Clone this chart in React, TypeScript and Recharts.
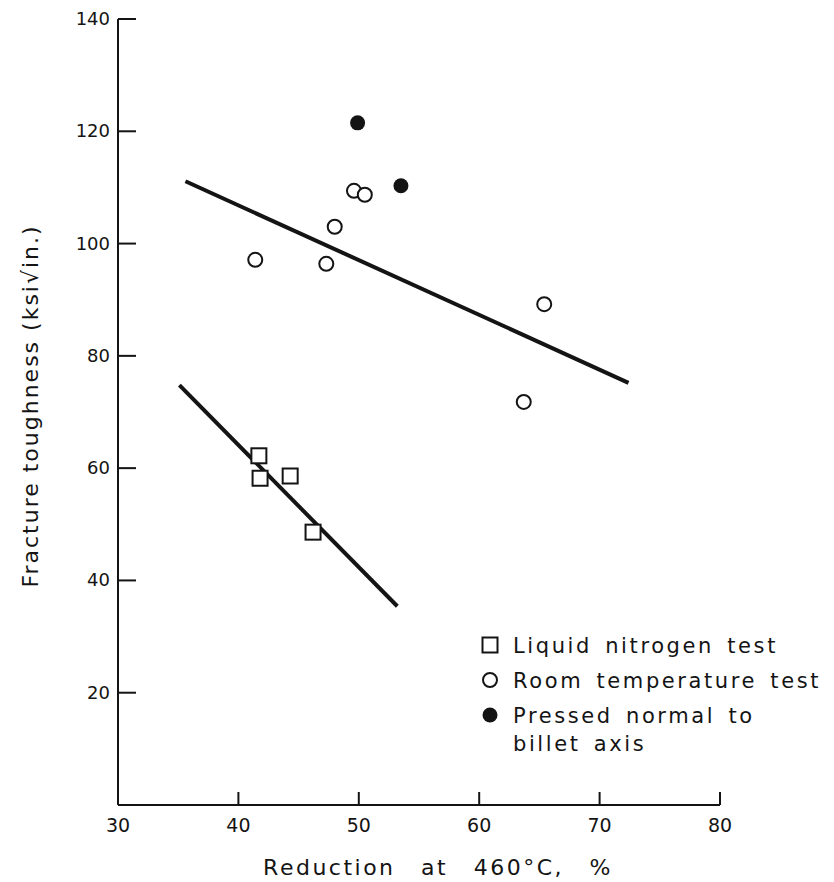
import { Label, Legend, ReferenceLine, Scatter, ScatterChart, XAxis, YAxis } from "recharts";

const FONT = '"DejaVu Sans", sans-serif';
const INK = "#141414";

const xTicks = [30, 40, 50, 60, 70, 80];
const yTicks = [20, 40, 60, 80, 100, 120, 140];

const liquidNitrogen = [
  { reduction: 41.7, toughness: 62.2 },
  { reduction: 41.8, toughness: 58.2 },
  { reduction: 44.3, toughness: 58.6 },
  { reduction: 46.2, toughness: 48.6 },
];

const roomTemperature = [
  { reduction: 41.4, toughness: 97.1 },
  { reduction: 47.3, toughness: 96.4 },
  { reduction: 48.0, toughness: 103.0 },
  { reduction: 49.6, toughness: 109.4 },
  { reduction: 50.5, toughness: 108.7 },
  { reduction: 65.4, toughness: 89.2 },
  { reduction: 63.7, toughness: 71.8 },
];

const pressedNormal = [
  { reduction: 49.9, toughness: 121.5 },
  { reduction: 53.5, toughness: 110.3 },
];

const roomTempFit = [
  { x: 35.6, y: 111.1 },
  { x: 72.4, y: 75.2 },
];

const liquidNitrogenFit = [
  { x: 35.1, y: 74.8 },
  { x: 53.2, y: 35.4 },
];

const legendItems = [
  { kind: "square", text: ["Liquid nitrogen test"] },
  { kind: "circle", text: ["Room temperature test"] },
  { kind: "dot", text: ["Pressed normal to", "billet axis"] },
];

const TICK_MARGIN = 8;

const SquareMark = ({ cx, cy }: any) => (
  <rect x={cx - 7.5} y={cy - 7.5} width={15} height={15} fill="#fff" stroke={INK} strokeWidth={2} />
);
const CircleMark = ({ cx, cy }: any) => (
  <circle cx={cx} cy={cy} r={7} fill="#fff" stroke={INK} strokeWidth={2} />
);
const DotMark = ({ cx, cy }: any) => <circle cx={cx} cy={cy} r={7.5} fill={INK} />;

const YTick = ({ x, y, payload }: any) => (
  <g>
    <line x1={x + TICK_MARGIN} x2={x + TICK_MARGIN + 18} y1={y} y2={y} stroke={INK} strokeWidth={2} />
    <text x={x} y={y} dy={6} textAnchor="end" fontFamily={FONT} fontSize={18} fill={INK}>
      {payload.value}
    </text>
  </g>
);

const XTick = ({ x, y, payload }: any) => (
  <g>
    {payload.value !== 30 && (
      <line x1={x} x2={x} y1={y - TICK_MARGIN} y2={y - TICK_MARGIN - 13} stroke={INK} strokeWidth={2} />
    )}
    <text x={x} y={y} dy={19} textAnchor="middle" fontFamily={FONT} fontSize={19} fill={INK}>
      {payload.value}
    </text>
  </g>
);

const LegendBox = () => (
  <div
    style={{ fontFamily: FONT, fontSize: 21, letterSpacing: 2.6, wordSpacing: 4, color: INK, lineHeight: "28px" }}
  >
    {legendItems.map((item) => (
      <div key={item.kind} style={{ display: "flex", alignItems: "flex-start", marginBottom: 7 }}>
        <svg width={38} height={28} style={{ flexShrink: 0 }}>
          {item.kind === "square" && <SquareMark cx={15} cy={13} />}
          {item.kind === "circle" && <CircleMark cx={15} cy={13} />}
          {item.kind === "dot" && <DotMark cx={15} cy={13} />}
        </svg>
        <div>
          {item.text.map((t) => (
            <div key={t}>{t}</div>
          ))}
        </div>
      </div>
    ))}
  </div>
);

export default function App() {
  return (
    <div style={{ position: "absolute", left: 0, top: 0, width: 834, height: 882, background: "#fff" }}>
      <ScatterChart width={834} height={882} margin={{ top: 19, right: 114, bottom: 0, left: 0 }}>
        <XAxis
          type="number"
          dataKey="reduction"
          domain={[30, 80]}
          ticks={xTicks}
          allowDataOverflow
          height={77}
          tickSize={0}
          tickMargin={TICK_MARGIN}
          tickLine={false}
          axisLine={{ stroke: INK, strokeWidth: 2 }}
          tick={<XTick />}
        >
          <Label
            content={({ viewBox }: any) => (
              <text
                x={viewBox.x + viewBox.width / 2 + 19}
                y={viewBox.y + 70}
                textAnchor="middle"
                fontFamily={FONT}
                fontSize={22}
                letterSpacing={2.5}
                wordSpacing={16}
                fill={INK}
              >
                Reduction at 460°C, %
              </text>
            )}
          />
        </XAxis>
        <YAxis
          type="number"
          dataKey="toughness"
          domain={[0, 140]}
          ticks={yTicks}
          allowDataOverflow
          width={118}
          tickSize={0}
          tickMargin={TICK_MARGIN}
          tickLine={false}
          axisLine={{ stroke: INK, strokeWidth: 2 }}
          tick={<YTick />}
        >
          <Label
            content={({ viewBox }: any) => {
              const cx = viewBox.x + 38;
              const cy = viewBox.y + viewBox.height / 2 - 6;
              return (
                <text
                  x={cx}
                  y={cy}
                  transform={`rotate(-90 ${cx} ${cy})`}
                  textAnchor="middle"
                  fontFamily={FONT}
                  fontSize={22}
                  letterSpacing={2}
                  fill={INK}
                >
                  Fracture toughness (ksi√in.)
                </text>
              );
            }}
          />
        </YAxis>
        <ReferenceLine segment={roomTempFit} stroke={INK} strokeWidth={4} ifOverflow="visible" />
        <ReferenceLine segment={liquidNitrogenFit} stroke={INK} strokeWidth={4} ifOverflow="visible" />
        <Scatter name="Liquid nitrogen test" data={liquidNitrogen} shape={<SquareMark />} isAnimationActive={false} />
        <Scatter name="Room temperature test" data={roomTemperature} shape={<CircleMark />} isAnimationActive={false} />
        <Scatter name="Pressed normal to billet axis" data={pressedNormal} shape={<DotMark />} isAnimationActive={false} />
        <Legend
          layout="vertical"
          align="center"
          verticalAlign="middle"
          content={<LegendBox />}
          wrapperStyle={{ position: "absolute", left: 475, top: 632, width: 359, bottom: "auto" }}
        />
      </ScatterChart>
    </div>
  );
}
